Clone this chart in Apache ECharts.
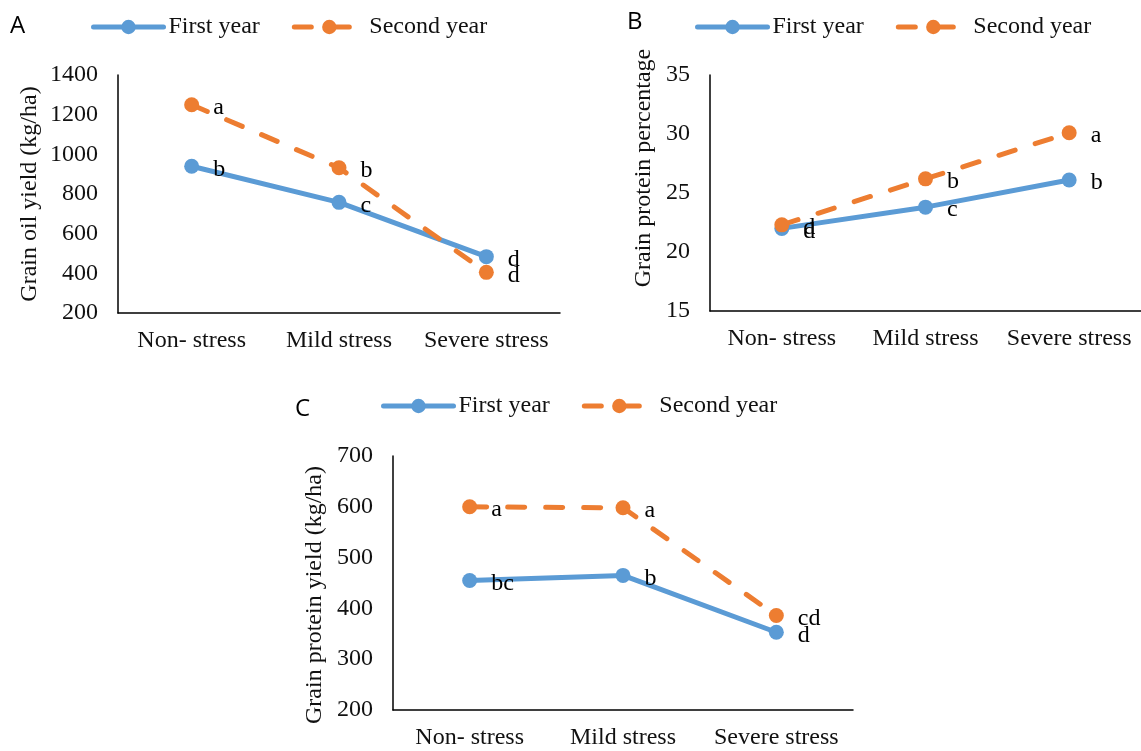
<!DOCTYPE html>
<html>
<head>
<meta charset="utf-8">
<title>Stress response charts</title>
<script src="https://cdn.jsdelivr.net/npm/echarts@6/dist/echarts.min.js"></script>
<style>
  html, body { margin: 0; padding: 0; background: #fff; }
  #chart { width: 1141px; height: 751px; }
</style>
</head>
<body>
<div id="chart"></div>
<script>
const categories = ['Non- stress', 'Mild stress', 'Severe stress']
const seriesNames = ['First year', 'Second year']

// A: grain oil yield (kg/ha)
const oilFirst = [940, 758, 484]
const oilSecond = [1250, 932, 405]
const oilFirstLetters = ['b', 'c', 'd']
const oilSecondLetters = ['a', 'b', 'd']

// B: grain protein percentage
const protPctFirst = [22.0, 23.8, 26.1]
const protPctSecond = [22.3, 26.2, 30.1]
const protPctFirstLetters = ['d', 'c', 'b']
const protPctSecondLetters = ['d', 'b', 'a']

// C: grain protein yield (kg/ha)
const protYieldFirst = [455, 465, 353]
const protYieldSecond = [600, 598, 386]
const protYieldFirstLetters = ['bc', 'b', 'd']
const protYieldSecondLetters = ['a', 'a', 'cd']

const BLUE = '#5B9BD5'
const ORANGE = '#ED7D31'
const SERIF = '"Liberation Serif", "Times New Roman", serif'
const FS = 24

const chart = echarts.init(document.getElementById('chart'))

const grids = [
  { left: 118, top: 75, width: 442, height: 238 },
  { left: 710, top: 75, width: 438, height: 236 },
  { left: 393, top: 456, width: 460, height: 254 }
]

const yDefs = [
  { min: 200, max: 1400, interval: 200, name: 'Grain oil yield (kg/ha)', gap: 76, pad: [0, 0, 0, 0] },
  { min: 15, max: 35, interval: 5, name: 'Grain protein percentage', gap: 54, pad: [0, 0, 0, 50] },
  { min: 200, max: 700, interval: 100, name: 'Grain protein yield (kg/ha)', gap: 66, pad: [0, 24, 0, 0] }
]

const xAxes = grids.map((g, i) => ({
  type: 'category',
  gridIndex: i,
  data: categories,
  axisTick: { show: false },
  axisLine: { show: true, lineStyle: { color: '#000', width: 1.5 } },
  axisLabel: { color: '#111', fontSize: FS, fontFamily: SERIF, margin: 16, interval: 0 },
  splitLine: { show: false }
}))

const yAxes = yDefs.map((d, i) => ({
  type: 'value',
  gridIndex: i,
  min: d.min,
  max: d.max,
  interval: d.interval,
  name: d.name,
  nameLocation: 'middle',
  nameGap: d.gap,
  nameTextStyle: { color: '#111', fontSize: FS, fontFamily: SERIF, padding: d.pad },
  axisTick: { show: false },
  axisLine: { show: true, lineStyle: { color: '#000', width: 1.5 } },
  axisLabel: { color: '#111', fontSize: FS, fontFamily: SERIF, margin: 20, formatter: v => String(v) },
  splitLine: { show: false }
}))

const makeSeries = (name, values, letters, idx, color, dashed) => ({
  name,
  type: 'line',
  xAxisIndex: idx,
  yAxisIndex: idx,
  data: values,
  symbol: 'circle',
  symbolSize: 15,
  lineStyle: { color, width: 5, type: dashed ? [17, 21] : 'solid', cap: 'round' },
  itemStyle: { color },
  label: {
    show: true,
    position: 'right',
    distance: 14,
    offset: [0, 3],
    color: '#000',
    fontSize: FS,
    fontFamily: SERIF,
    formatter: (p) => letters[p.dataIndex]
  },
  emphasis: { disabled: true },
  z: dashed ? 3 : 2
})

const series = [
  makeSeries(seriesNames[0], oilFirst, oilFirstLetters, 0, BLUE, false),
  makeSeries(seriesNames[1], oilSecond, oilSecondLetters, 0, ORANGE, true),
  makeSeries(seriesNames[0], protPctFirst, protPctFirstLetters, 1, BLUE, false),
  makeSeries(seriesNames[1], protPctSecond, protPctSecondLetters, 1, ORANGE, true),
  makeSeries(seriesNames[0], protYieldFirst, protYieldFirstLetters, 2, BLUE, false),
  makeSeries(seriesNames[1], protYieldSecond, protYieldSecondLetters, 2, ORANGE, true)
]

const legendPos = [
  { left: 86, top: 10 },
  { left: 690, top: 10 },
  { left: 376, top: 389 }
]

const legends = legendPos.map(p => ({
  data: seriesNames,
  left: p.left,
  top: p.top,
  itemWidth: 70,
  itemHeight: 18,
  itemGap: 32,
  selectedMode: false,
  lineStyle: { width: 5 },
  textStyle: { color: '#111', fontSize: FS, fontFamily: SERIF }
}))

const panelLetters = [
  { text: 'A', x: 10, y: 14 },
  { text: 'B', x: 627, y: 10 },
  { text: 'C', x: 295, y: 397 }
]

chart.setOption({
  animation: false,
  backgroundColor: '#fff',
  grid: grids,
  xAxis: xAxes,
  yAxis: yAxes,
  legend: legends,
  series,
  graphic: panelLetters.map(l => ({
    type: 'text',
    left: l.x,
    top: l.y,
    style: { text: l.text, font: '24px "Open Sans", sans-serif', fill: '#000' }
  }))
})

window.addEventListener('resize', () => chart.resize())
</script>
</body>
</html>
